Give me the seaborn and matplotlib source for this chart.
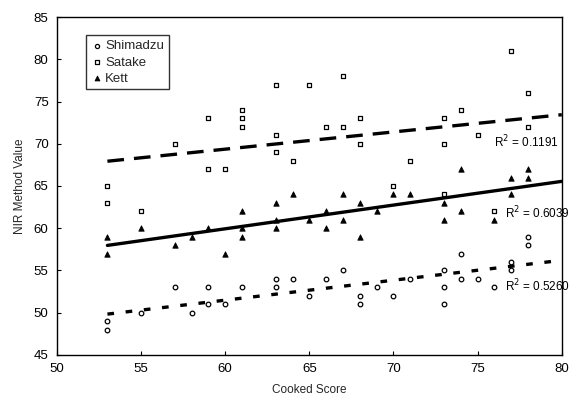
import numpy as np
import pandas as pd
import matplotlib
matplotlib.use("Agg")
import matplotlib.pyplot as plt
import seaborn as sns

# Cooked score (x) and NIR values (y) for each method
shimadzu_x = [53, 53, 55, 57, 58, 59, 59, 60, 61, 63, 63, 64, 65, 66, 67, 68, 68, 69, 70, 71,
              73, 73, 73, 74, 74, 75, 76, 77, 77, 78, 78]
shimadzu_y = [49, 48, 50, 53, 50, 53, 51, 51, 53, 54, 53, 54, 52, 54, 55, 52, 51, 53, 52, 54,
              55, 53, 51, 57, 54, 54, 53, 56, 55, 59, 58]

satake_x = [53, 53, 55, 57, 59, 59, 60, 61, 61, 61, 63, 63, 63, 64, 65, 66, 67, 67, 68, 68,
            70, 71, 73, 73, 73, 74, 75, 76, 77, 78, 78]
satake_y = [65, 63, 62, 70, 73, 67, 67, 74, 73, 72, 77, 71, 69, 68, 77, 72, 78, 72, 73, 70,
            65, 68, 73, 70, 64, 74, 71, 62, 81, 76, 72]

kett_x = [53, 53, 55, 57, 58, 59, 60, 61, 61, 61, 63, 63, 63, 64, 65, 66, 66, 67, 67, 68,
          68, 69, 70, 71, 73, 73, 74, 74, 76, 77, 77, 78, 78]
kett_y = [59, 57, 60, 58, 59, 60, 57, 62, 60, 59, 63, 61, 60, 64, 61, 62, 60, 64, 61, 63,
          59, 62, 64, 64, 63, 61, 67, 62, 61, 66, 64, 67, 66]

series_names = ["Shimadzu", "Satake", "Kett"]
r2_labels = ["R$^2$ = 0.5260", "R$^2$ = 0.1191", "R$^2$ = 0.6039"]
x_ticks = [50, 55, 60, 65, 70, 75, 80]
y_ticks = [45, 50, 55, 60, 65, 70, 75, 80, 85]

sns.set_theme(style="white")
plt.rcParams['font.family'] = ['Liberation Sans', 'DejaVu Sans']

fig = plt.figure(figsize=(5.75, 4.16), dpi=100)
ax = fig.add_axes([0.099, 0.147, 0.878, 0.812])

data = {
    "Shimadzu": (shimadzu_x, shimadzu_y),
    "Satake": (satake_x, satake_y),
    "Kett": (kett_x, kett_y),
}
marker_style = {
    "Shimadzu": dict(marker="o", facecolor="white", edgecolor="black", s=11, linewidth=0.9),
    "Satake": dict(marker="s", facecolor="white", edgecolor="black", s=11, linewidth=0.9),
    "Kett": dict(marker="^", facecolor="black", edgecolor="black", s=15, linewidth=0.6),
}
line_style = {
    "Shimadzu": (0, (2.0, 3.5)),
    "Satake": (0, (5.0, 3.0)),
    "Kett": "-",
}

for name in series_names:
    xs, ys = data[name]
    df = pd.DataFrame({"Cooked Score": xs, "NIR Method Value": ys})
    sns.scatterplot(data=df, x="Cooked Score", y="NIR Method Value", ax=ax,
                    label=name, zorder=3, **marker_style[name])
    slope, intercept = np.polyfit(xs, ys, 1)
    fx = np.array([min(xs), 80])
    fit = pd.DataFrame({"x": fx, "y": slope * fx + intercept})
    sns.lineplot(data=fit, x="x", y="y", ax=ax, color="black", linewidth=2.4,
                 linestyle=line_style[name], legend=False, zorder=2)

# R² annotations
ax.text(76.0, 70.2, r2_labels[1], fontsize=8.5, ha="left", va="center", color="black")
ax.text(76.6, 61.8, r2_labels[2], fontsize=8.5, ha="left", va="center", color="black")
ax.text(76.6, 53.2, r2_labels[0], fontsize=8.5, ha="left", va="center", color="black")

ax.set_xlim(50, 80)
ax.set_ylim(45, 85)
ax.set_xticks(x_ticks)
ax.set_yticks(y_ticks)
ax.tick_params(direction="in", length=3, width=0.8, colors="black", labelsize=9.5,
               bottom=True, left=True, pad=6)
ax.set_xlabel("Cooked Score", fontsize=8.5, labelpad=6)
ax.set_ylabel("NIR Method Value", fontsize=8.5, labelpad=6)
for sp in ax.spines.values():
    sp.set_color("black")
    sp.set_linewidth(1.0)

leg = ax.legend(loc="upper left", bbox_to_anchor=(0.045, 0.965), fontsize=9.5,
                frameon=True, fancybox=False, edgecolor="black", borderpad=0.35,
                handletextpad=0.1, labelspacing=0.3, handlelength=1.0, markerscale=0.9)
leg.get_frame().set_linewidth(1.0)

fig.savefig("out.png", dpi=100)
